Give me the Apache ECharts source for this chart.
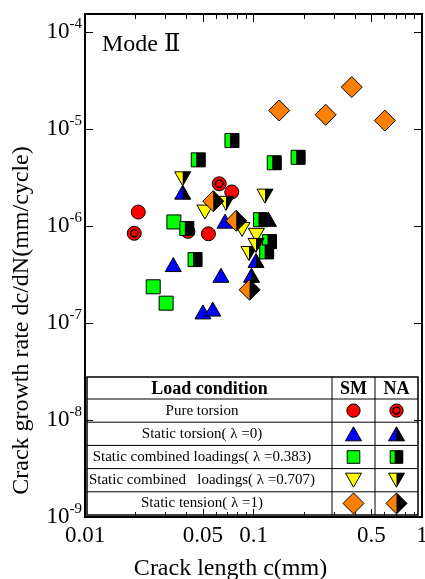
<!DOCTYPE html>
<html>
<head>
<meta charset="utf-8">
<script src="https://cdn.jsdelivr.net/npm/echarts@6/dist/echarts.min.js"></script>
<style>html,body{margin:0;padding:0;background:#fff}#main{width:425px;height:579px}</style>
</head>
<body>
<div id="main"></div>
<script>
// [crack length c (mm), dc/dN (mm/cycle)]
var pureTorsionSM = [[0.0207, 1.39e-6], [0.054, 8.3e-7], [0.0743, 2.24e-6], [0.0408, 8.8e-7]];
var pureTorsionNA = [[0.0196, 8.4e-7], [0.0626, 2.72e-6]];
var staticTorsionSM = [[0.0334, 4.0e-7], [0.0641, 3.1e-7], [0.0501, 1.3e-7], [0.0573, 1.39e-7], [0.0678, 1.12e-6]];
var staticTorsionNA = [[0.038, 2.23e-6], [0.0973, 3.1e-7], [0.1035, 4.4e-7], [0.1226, 1.17e-6]];
var combined383SM = [[0.0337, 1.1e-6], [0.0254, 2.36e-7], [0.0303, 1.6e-7]];
var combined383NA = [[0.047, 4.8e-6], [0.0745, 7.6e-6], [0.1328, 4.48e-6], [0.184, 5.1e-6], [0.0402, 9.4e-7],
                     [0.110, 1.16e-6], [0.1245, 6.9e-7], [0.1197, 5.4e-7], [0.045, 4.5e-7]];
var combined707SM = [[0.0515, 1.39e-6], [0.0855, 9.2e-7], [0.104, 8.0e-7]];
var combined707NA = [[0.038, 3.06e-6], [0.0687, 1.71e-6], [0.117, 2.03e-6], [0.094, 5.2e-7], [0.1035, 6.3e-7]];
var tensionSM = [[0.142, 1.55e-5], [0.268, 1.4e-5], [0.383, 2.7e-5], [0.602, 1.22e-5]];
var tensionNA = [[0.0577, 1.8e-6], [0.079, 1.13e-6], [0.0948, 2.2e-7]];

var xLabelValues = [0.01, 0.05, 0.1, 0.5, 1];
var xMinorTicks = [0.02, 0.03, 0.04, 0.06, 0.07, 0.08, 0.09, 0.2, 0.3, 0.4, 0.6, 0.7, 0.8, 0.9];
var legendLabels = ['Pure torsion', 'Static torsion( \u03bb =0)', 'Static combined loadings( \u03bb =0.383)',
                    'Static combined   loadings( \u03bb =0.707)', 'Static tension( \u03bb =1)'];
var legendKinds = ['circle', 'up', 'square', 'down', 'diamond'];

var FONT = "'Liberation Serif', 'DejaVu Serif', 'Times New Roman', serif";
var COLORS = {circle: '#ff0000', up: '#0000ff', square: '#00ff00', down: '#ffff00', diamond: '#ff8000'};

// marker pieces, NA = right half black
function glyph(kind, na, x, y, s) {
  s = s || 1;
  var col = COLORS[kind], out = [];
  if (kind === 'circle') {
    out.push({type: 'circle', shape: {cx: x, cy: y, r: 7 * s}, style: {fill: col, stroke: '#000', lineWidth: 1}});
    if (na) out.push({type: 'circle', shape: {cx: x, cy: y, r: 3.6 * s}, style: {fill: col, stroke: '#000', lineWidth: 1.3}});
    return out;
  }
  var w, h, pts, half;
  if (kind === 'up') {
    w = 8 * s; h = 7 * s;
    pts = [[x - w, y + h], [x + w, y + h], [x, y - h]];
    half = [[x, y - h], [x, y + h], [x + w, y + h]];
  } else if (kind === 'down') {
    w = 8 * s; h = 7 * s;
    pts = [[x - w, y - h], [x + w, y - h], [x, y + h]];
    half = [[x, y + h], [x, y - h], [x + w, y - h]];
  } else if (kind === 'square') {
    w = 7 * s;
    pts = [[x - w, y - w], [x + w, y - w], [x + w, y + w], [x - w, y + w]];
    half = [[x - 2 * s, y - w], [x + w, y - w], [x + w, y + w], [x - 2 * s, y + w]];
  } else {
    w = 10.5 * s;
    pts = [[x, y - w], [x + w, y], [x, y + w], [x - w, y]];
    half = [[x, y - w], [x + w, y], [x, y + w]];
  }
  out.push({type: 'polygon', shape: {points: pts}, style: {fill: col}});
  if (na) out.push({type: 'polygon', shape: {points: half}, style: {fill: '#000'}});
  out.push({type: 'polygon', shape: {points: pts}, style: {fill: null, stroke: '#000', lineWidth: 1}});
  return out;
}

function markerSeries(name, data, kind, na) {
  return {
    name: name, type: 'custom', data: data, xAxisIndex: 0, yAxisIndex: 0,
    encode: {x: 0, y: 1},
    renderItem: function (params, api) {
      var p = api.coord([api.value(0), api.value(1)]);
      return {type: 'group', children: glyph(kind, na, p[0], p[1])};
    }
  };
}

function xAxisCfg(pos, ticks, len, withLabels) {
  return {
    type: 'log', logBase: 10, min: 0.01, max: 1, position: pos, gridIndex: 0,
    axisLine: {show: true, onZero: false, lineStyle: {color: '#000', width: 2}},
    axisTick: {show: true, inside: true, length: len, customValues: ticks, lineStyle: {color: '#000', width: 1}},
    axisLabel: withLabels ? {
      customValues: xLabelValues, margin: 7, color: '#000', fontSize: 23, fontFamily: FONT,
      formatter: function (v) { return String(+(+v).toPrecision(2)); }
    } : {show: false},
    splitLine: {show: false},
    name: withLabels ? 'Crack length c(mm)' : '',
    nameLocation: 'middle', nameGap: 40,
    nameTextStyle: {color: '#000', fontSize: 24, fontFamily: FONT, padding: [0, 46, 0, 0]}
  };
}

function yLabel(v) {
  var e = Math.log(v) / Math.LN10, r = Math.round(e);
  if (Math.abs(e - r) > 1e-6) return '';
  return '{b|10}{s|' + r + '}';
}

function yAxisCfg(pos, withLabels) {
  return {
    type: 'log', logBase: 10, min: 1e-9, max: 1.53e-4, position: pos, gridIndex: 0,
    axisLine: {show: true, onZero: false, lineStyle: {color: '#000', width: 2}},
    axisTick: {show: true, inside: true, length: 8, lineStyle: {color: '#000', width: 1}},
    axisLabel: withLabels ? {
      margin: 3, formatter: yLabel,
      rich: {
        b: {fontSize: 23, fontFamily: FONT, color: '#000', lineHeight: 30},
        s: {fontSize: 15, fontFamily: FONT, color: '#000', verticalAlign: 'top'}
      }
    } : {show: false},
    splitLine: {show: false}, minorTick: {show: false},
    name: withLabels ? 'Crack growth rate dc/dN(mm/cycle)' : '',
    nameLocation: 'middle', nameGap: 51,
    nameTextStyle: {color: '#000', fontSize: 24, fontFamily: FONT, padding: [0, 110, 0, 0]}
  };
}

// legend table
var T = {x0: 87, x1: 418, c1: 332, c2: 375, top: 377, head: 399, bottom: 515};
var rowH = (T.bottom - T.head) / legendLabels.length;
var tableEls = [
  {type: 'rect', shape: {x: T.x0, y: T.top, width: T.x1 - T.x0, height: T.bottom - T.top},
   style: {fill: '#fff', stroke: '#000', lineWidth: 1.5}},
  {type: 'line', shape: {x1: T.c1, y1: T.top, x2: T.c1, y2: T.bottom}, style: {stroke: '#000', lineWidth: 1}},
  {type: 'line', shape: {x1: T.c2, y1: T.top, x2: T.c2, y2: T.bottom}, style: {stroke: '#000', lineWidth: 1}},
  {type: 'text', x: (T.x0 + T.c1) / 2, y: (T.top + T.head) / 2 + 1,
   style: {text: 'Load condition', font: 'bold 18px ' + FONT, fill: '#000', align: 'center', verticalAlign: 'middle'}},
  {type: 'text', x: (T.c1 + T.c2) / 2, y: (T.top + T.head) / 2 + 1,
   style: {text: 'SM', font: 'bold 18px ' + FONT, fill: '#000', align: 'center', verticalAlign: 'middle'}},
  {type: 'text', x: (T.c2 + T.x1) / 2, y: (T.top + T.head) / 2 + 1,
   style: {text: 'NA', font: 'bold 18px ' + FONT, fill: '#000', align: 'center', verticalAlign: 'middle'}}
];
legendLabels.forEach(function (lab, i) {
  var y0 = T.head + i * rowH, cy = y0 + rowH / 2;
  tableEls.push({type: 'line', shape: {x1: T.x0, y1: y0, x2: T.x1, y2: y0}, style: {stroke: '#000', lineWidth: 1}});
  tableEls.push({type: 'text', x: 202, y: cy,
    style: {text: lab, font: '15px ' + FONT, fill: '#000', align: 'center', verticalAlign: 'middle'}});
  var k = legendKinds[i], sc = k === 'square' ? 0.9 : (k === 'circle' ? 0.95 : 1);
  tableEls.push({type: 'group', children: glyph(k, false, 353.5, cy, sc)});
  tableEls.push({type: 'group', children: glyph(k, true, 396.5, cy, sc)});
});
tableEls.push({type: 'text', x: 102, y: 33,
  style: {text: 'Mode \u2161', font: '24px ' + FONT, fill: '#000'}});

var chart = echarts.init(document.getElementById('main'));
chart.setOption({
  animation: false,
  backgroundColor: '#fff',
  grid: {left: 85, right: 3, top: 14, bottom: 62, containLabel: false, outerBoundsMode: 'none'},
  xAxis: [
    xAxisCfg('bottom', xLabelValues, 8, true),
    xAxisCfg('bottom', xMinorTicks, 5, false),
    xAxisCfg('top', xLabelValues, 8, false),
    xAxisCfg('top', xMinorTicks, 5, false)
  ],
  yAxis: [yAxisCfg('left', true), yAxisCfg('right', false)],
  series: [
    markerSeries('Pure torsion SM', pureTorsionSM, 'circle', false),
    markerSeries('Pure torsion NA', pureTorsionNA, 'circle', true),
    markerSeries('Static torsion SM', staticTorsionSM, 'up', false),
    markerSeries('Static torsion NA', staticTorsionNA, 'up', true),
    markerSeries('Combined 0.383 SM', combined383SM, 'square', false),
    markerSeries('Combined 0.383 NA', combined383NA, 'square', true),
    markerSeries('Combined 0.707 SM', combined707SM, 'down', false),
    markerSeries('Combined 0.707 NA', combined707NA, 'down', true),
    markerSeries('Tension SM', tensionSM, 'diamond', false),
    markerSeries('Tension NA', tensionNA, 'diamond', true)
  ],
  graphic: {elements: tableEls}
});
</script>
</body>
</html>
